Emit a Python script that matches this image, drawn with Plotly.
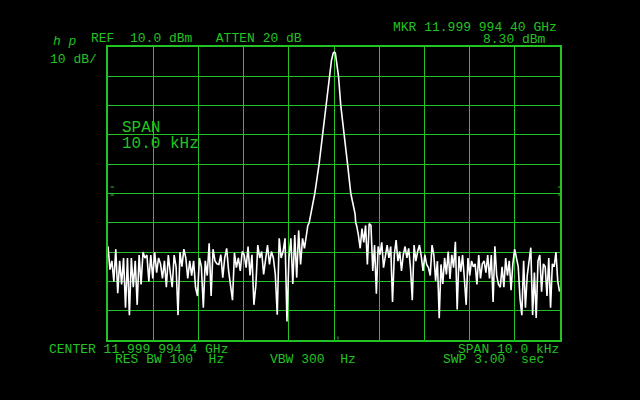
import numpy as np
import plotly.graph_objects as go

# ---- data (frequency offset from centre in kHz, level in dBm) ----
center_label = "CENTER 11.999 994 4 GHz"
ref_level_dbm = 10.0
db_per_div = 10
span_khz = 10.0

left_noise_start_khz = -5.0
left_noise_stop_khz = -0.61
left_noise_dbm = [
    -58, -66, -63, -70, -59, -74, -63, -71, -62, -79, -62, -81.5, -62, -72, -63, -78,
    -61, -71, -60, -62, -61, -70, -61, -69, -60, -67, -62, -64, -69, -63, -72, -61,
    -67, -72, -61, -65, -81.5, -60, -65, -59, -62, -69, -63, -68, -63, -72, -75, -62,
    -65, -79, -63, -68, -57, -75, -59, -63, -64,
    -64.2, -60.9, -68.7, -62, -58.7, -66.4, -72, -76.4, -60.3, -65.3, -62, -66.4,
    -59.8, -60.9, -65.3, -58.1, -68, -60.9, -78, -71.4, -57.6, -62, -59.8, -67.6,
    -62.6, -57.6, -64.2, -59.8, -62, -67.6, -81.4, -55.3, -62, -59.8, -55.3, -83.7,
    -62, -55.3, -70.9, -54.2, -68.7, -52.6, -64.2, -55.3, -58.7, -53.7,
]

peak_khz = [-0.58, -0.55, -0.46, -0.425, -0.33, -0.254, -0.166, -0.093, -0.055,
            -0.015, 0.007, 0.029, 0.055, 0.10, 0.15, 0.232, 0.30, 0.372, 0.41,
            0.467, 0.48]
peak_dbm = [-51, -50, -43, -40, -30, -20, -10, 0, 5.5,
            8.0, 8.3, 8.0, 5.5, 0, -10, -20, -30, -40, -43,
            -47, -50]

right_noise_start_khz = 0.50
right_noise_stop_khz = 4.99
right_noise_dbm = [
    -50.9, -54.2, -58.7, -52, -56.7, -50.9, -64.2, -50.3, -50.9, -66.4, -57.6, -74.2,
    -58.1, -60.9, -56.7, -65.3, -60.9, -57.6, -62, -58.1, -77, -60.9, -55.9, -63.1,
    -59.8, -66.4, -60.9, -58.1, -62, -58.7, -65.3, -76.4, -57.6, -63.1, -59.8, -57.6,
    -61.4, -66.4, -60.9, -64.2, -65.3, -68, -57.6, -60.9, -69.8, -63.1, -82.6, -64.2,
    -70.9, -62, -67.6, -59.8, -69.2, -60.9, -65.3,
    -56.5, -79.6, -61.4, -66.7, -61, -69, -78, -62, -68, -63, -65, -64, -71, -61,
    -69, -64, -63, -67, -61, -69, -61, -77, -58, -68, -71, -72, -65, -72, -62, -68,
    -63, -73, -64, -59, -62, -65, -76, -81.5, -63, -79, -68, -64, -58.5, -81.5, -67,
    -82.5, -63, -61, -73.5, -64, -65, -75, -62, -79, -64, -65, -60, -70, -73.5,
]

# ---- build trace ----
left_khz = np.linspace(left_noise_start_khz, left_noise_stop_khz, len(left_noise_dbm))
right_khz = np.linspace(right_noise_start_khz, right_noise_stop_khz, len(right_noise_dbm))
freq = np.concatenate([left_khz, peak_khz, right_khz])
level = np.concatenate([left_noise_dbm, peak_dbm, right_noise_dbm])

GREEN = "#22c322"
FONT = "Liberation Mono, Courier New, monospace"

fig = go.Figure()
fig.add_trace(go.Scatter(x=freq, y=level, mode="lines",
                         line=dict(color="white", width=1.6), hoverinfo="skip"))

# plot area in pixels
L, R, T, B = 108, 560, 47, 340
W, H = 640, 400

def px(x, y):
    return (x - L) / (R - L), (B - y) / (B - T)

MAIN = 13
labels = [
    # text, left x px, centre y px, size
    ("REF  10.0 dBm   ATTEN 20 dB", 91, 38.5, MAIN),
    ("10 dB/", 50, 59.5, MAIN),
    ("MKR 11.999 994 40 GHz", 393, 28, MAIN),
    ("8.30 dBm", 483, 39.5, MAIN),
    ("SPAN", 122, 128, 16),
    ("10.0 kHz", 122, 144, 16),
    (center_label, 49, 349, MAIN),
    ("SPAN 10.0 kHz", 458, 349, MAIN),
    ("RES BW 100  Hz", 115, 359.5, MAIN),
    ("VBW 300  Hz", 270, 359.5, MAIN),
    ("SWP 3.00  sec", 443, 359.5, MAIN),
]
annotations = []
for text, x, y, size in labels:
    xp, yp = px(x - 2, y)
    annotations.append(dict(text=text, x=xp, y=yp, xref="paper", yref="paper",
                            xanchor="left", yanchor="middle", showarrow=False,
                            font=dict(family=FONT, size=size, color=GREEN)))
xp, yp = px(51, 42)
annotations.append(dict(text="<i>h p</i>", x=xp, y=yp, xref="paper", yref="paper",
                        xanchor="left", yanchor="middle", showarrow=False,
                        font=dict(family=FONT, size=13, color=GREEN)))

shapes = []
for (x0, y0, x1, y1) in [(110.5, 187, 114, 187), (110.5, 195, 114, 195),
                         (558, 187, 562, 187), (558, 195, 562, 195),
                         (338, 336.5, 338, 339.5)]:
    a0, b0 = px(x0, y0)
    a1, b1 = px(x1, y1)
    shapes.append(dict(type="line", xref="paper", yref="paper", x0=a0, y0=b0,
                       x1=a1, y1=b1, line=dict(color=GREEN, width=1)))

axis_common = dict(showticklabels=False, ticks="", showgrid=True, gridcolor=GREEN,
                   gridwidth=1.3, zeroline=False, showline=True, linecolor=GREEN,
                   linewidth=1.5, mirror=True, fixedrange=True)
fig.update_layout(
    width=W, height=H, autosize=False,
    paper_bgcolor="black", plot_bgcolor="black",
    margin=dict(l=L, r=W - R, t=T, b=H - B, pad=0),
    showlegend=False,
    xaxis=dict(range=[-span_khz / 2, span_khz / 2], dtick=1, **axis_common),
    yaxis=dict(range=[ref_level_dbm - 10 * db_per_div, ref_level_dbm], dtick=db_per_div,
               **axis_common),
    annotations=annotations,
    shapes=shapes,
)
fig.write_html(
    "out.html",
    config={"displayModeBar": False},
    post_script="document.body.style.margin='0';document.body.style.background='black';"
                "document.body.style.overflow='hidden';",
)
